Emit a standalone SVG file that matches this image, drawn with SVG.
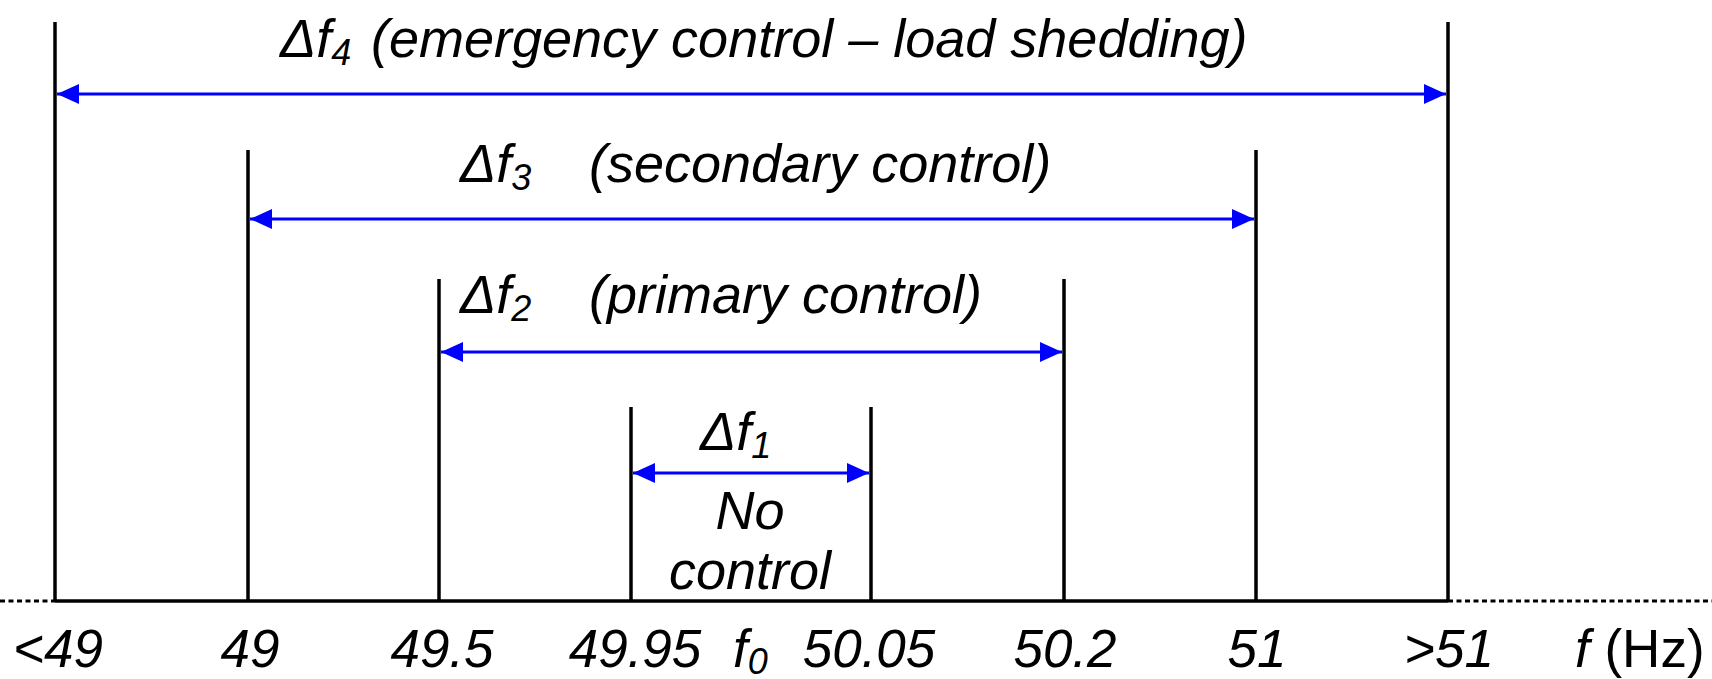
<svg xmlns="http://www.w3.org/2000/svg" width="1712" height="679" viewBox="0 0 1712 679">
<style>
.t{font-family:"Liberation Sans",Arial,sans-serif;font-style:italic;font-size:54px;fill:#000}
.b{font-size:53px}
.m{text-anchor:middle}
.s{font-size:36px}
.up{font-style:normal}
.v{stroke:#000;stroke-width:3.5;fill:none}
.a{stroke:#0000ff;stroke-width:2.8;fill:none;marker-start:url(#ah);marker-end:url(#ah)}
</style>
<defs>
<marker id="ah" viewBox="0 0 22 22" refX="22" refY="11" markerWidth="22" markerHeight="22" markerUnits="userSpaceOnUse" orient="auto-start-reverse">
<path d="M0,1 L22,11 L0,21 Z" fill="#0000ff"/>
</marker>
</defs>
<rect width="1712" height="679" fill="#fff"/>
<g id="axis">
<line x1="55" y1="601" x2="1448" y2="601" class="v"/>
<line x1="0" y1="601" x2="55" y2="601" stroke="#000" stroke-width="2.8" stroke-dasharray="5 3.5"/>
<line x1="1448" y1="601" x2="1712" y2="601" stroke="#000" stroke-width="2.8" stroke-dasharray="5 3.5"/>
</g>
<g id="bounds">
<line x1="55" y1="22" x2="55" y2="601" class="v"/>
<line x1="1448" y1="22" x2="1448" y2="601" class="v"/>
<line x1="248" y1="150" x2="248" y2="601" class="v"/>
<line x1="1256" y1="150" x2="1256" y2="601" class="v"/>
<line x1="439" y1="279" x2="439" y2="601" class="v"/>
<line x1="1064" y1="279" x2="1064" y2="601" class="v"/>
<line x1="631" y1="407" x2="631" y2="601" class="v"/>
<line x1="871" y1="407" x2="871" y2="601" class="v"/>
</g>
<g id="connectors">
<line x1="57" y1="94" x2="1446" y2="94" class="a"/>
<line x1="250" y1="219" x2="1254" y2="219" class="a"/>
<line x1="441" y1="352" x2="1062" y2="352" class="a"/>
<line x1="633" y1="473" x2="869" y2="473" class="a"/>
</g>
<g id="band4"><text class="t" x="280" y="57">Δf<tspan class="s" dy="8">4</tspan><tspan dy="-8" x="371">(emergency control – load shedding)</tspan></text></g>
<g id="band3"><text class="t" x="460" y="182">Δf<tspan class="s" dy="8">3</tspan><tspan dy="-8" x="589">(secondary control)</tspan></text></g>
<g id="band2"><text class="t" x="460" y="313">Δf<tspan class="s" dy="8">2</tspan><tspan dy="-8" x="589">(primary control)</tspan></text></g>
<g id="band1">
<text class="t" x="700" y="450">Δf<tspan class="s" dy="8">1</tspan></text>
<text class="t m" x="750" y="529">No</text>
<text class="t m" x="750" y="589">control</text>
</g>
<g id="labels">
<text class="t b m" x="58" y="667">&lt;49</text>
<text class="t b m" x="250" y="667">49</text>
<text class="t b m" x="442" y="667">49.5</text>
<text class="t b m" x="635" y="667">49.95</text>
<text class="t b" x="733" y="667">f<tspan class="s" dy="7">0</tspan></text>
<text class="t b m" x="869" y="667">50.05</text>
<text class="t b m" x="1065" y="667">50.2</text>
<text class="t b m" x="1257" y="667">51</text>
<text class="t b m" x="1449" y="667">&gt;51</text>
<text class="t b" x="1575" y="667">f <tspan class="up">(Hz)</tspan></text>
</g>
</svg>
